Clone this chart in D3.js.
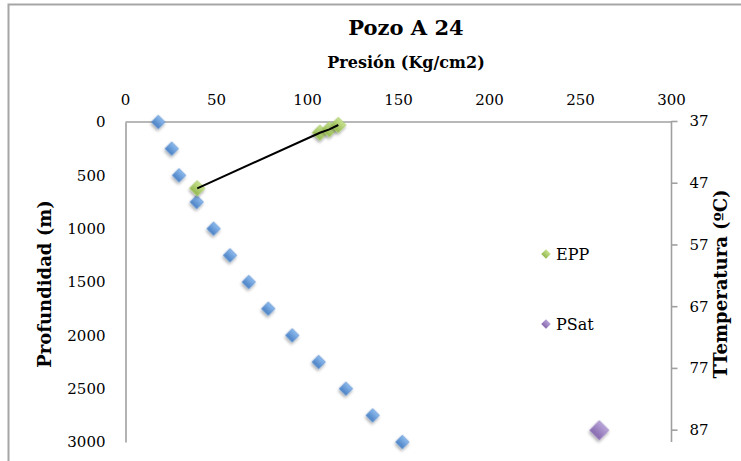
<!DOCTYPE html>
<html>
<head>
<meta charset="utf-8">
<script src="https://cdn.jsdelivr.net/npm/d3@7"></script>
<style>
  html, body { margin: 0; padding: 0; background: #fff; }
  svg { display: block; }
</style>
</head>
<body>
<script>
// ---- data ----
const profundidad = [0, 250, 500, 750, 1000, 1250, 1500, 1750, 2000, 2250, 2500, 2750, 3000];
const presion = [18.3, 25.7, 29.7, 39.4, 48.7, 57.7, 68.0, 78.7, 91.9, 106.4, 121.4, 136.1, 152.4];
const eppPresion = [39.7, 107.1, 112.3, 117.2];
const eppTemp = [47.9, 38.9, 38.35, 37.65];
const psatPresion = [260.6];
const psatTemp = [87.1];
const xTicks = [0, 50, 100, 150, 200, 250, 300];
const yTicks = [0, 500, 1000, 1500, 2000, 2500, 3000];
const tTicks = [37, 47, 57, 67, 77, 87];
const seriesNames = ["EPP", "PSat"];

const W = 741, H = 461;
const FONT = "'DejaVu Serif', 'Liberation Serif', serif";

const svg = d3.select("body").append("svg").attr("width", W).attr("height", H);
const defs = svg.append("defs");

function grad(id, c1, c2) {
  const g = defs.append("linearGradient").attr("id", id)
    .attr("x1", 0).attr("y1", 0).attr("x2", 0).attr("y2", 1);
  g.append("stop").attr("offset", "0%").attr("stop-color", c1);
  g.append("stop").attr("offset", "100%").attr("stop-color", c2);
}
grad("gBlue", "#8DBBEE", "#4A80C4");
grad("gGreen", "#C8E28F", "#94B851");
grad("gPurple", "#B9A5D8", "#8668AE");

const f = defs.append("filter").attr("id", "shadow")
  .attr("x", "-50%").attr("y", "-50%").attr("width", "200%").attr("height", "200%");
f.append("feDropShadow").attr("dx", 1).attr("dy", 2).attr("stdDeviation", 1.6)
  .attr("flood-color", "#000").attr("flood-opacity", 0.35);

// outer border
svg.append("rect").attr("x", 8.5).attr("y", 4.5).attr("width", 800).attr("height", 600)
  .attr("fill", "none").attr("stroke", "#A6A6A6").attr("stroke-width", 2);

// scales
const x = d3.scaleLinear().domain([0, 300]).range([125, 671]);
const y = d3.scaleLinear().domain([0, 3000]).range([122, 442]);
const t = d3.scaleLinear().domain([37, 89]).range([121, 442]);

// axes
const axTop = svg.append("g").attr("transform", "translate(0,121.5)")
  .call(d3.axisTop(x).tickValues(xTicks).tickFormat(d3.format("d")).tickSize(0).tickPadding(17));
const axLeft = svg.append("g").attr("transform", "translate(125.5,0)")
  .call(d3.axisLeft(y).tickValues(yTicks).tickFormat(d3.format("d")).tickSize(0).tickPadding(20));
const axRight = svg.append("g").attr("transform", "translate(671.5,0)")
  .call(d3.axisRight(t).tickValues(tTicks).tickFormat(d3.format("d")).tickSizeInner(6).tickSizeOuter(0).tickPadding(12));

[axTop, axLeft, axRight].forEach(a => {
  a.select(".domain").attr("stroke", "#A0A0A0").attr("stroke-width", 1.6);
  a.selectAll(".tick line").attr("stroke", "#A0A0A0").attr("stroke-width", 1.6);
  a.selectAll(".tick text").attr("fill", "#000").style("font-family", FONT).style("font-size", "15px");
});
axRight.select(".domain").attr("d", `M0,${t(37)}V${442}`);

// titles
svg.append("text").attr("x", 406).attr("y", 35).attr("text-anchor", "middle")
  .style("font-family", FONT).style("font-weight", "bold").style("font-size", "21px")
  .text("Pozo A 24");
svg.append("text").attr("x", 406).attr("y", 68).attr("text-anchor", "middle")
  .style("font-family", FONT).style("font-weight", "bold").style("font-size", "16px")
  .text("Presión (Kg/cm2)");
svg.append("text").attr("transform", "translate(51,284) rotate(-90)").attr("text-anchor", "middle")
  .style("font-family", FONT).style("font-weight", "bold").style("font-size", "18px")
  .text("Profundidad (m)");
svg.append("text").attr("transform", "translate(727,284) rotate(-90)").attr("text-anchor", "middle")
  .style("font-family", FONT).style("font-weight", "bold").style("font-size", "18px")
  .text("TTemperatura (ºC)");

const diamond = s => d3.symbol(d3.symbolSquare, s)();

// blue series (pressure vs depth)
svg.append("g").selectAll("path").data(presion.map((p, i) => [p, profundidad[i]])).join("path")
  .attr("d", diamond(92))
  .attr("transform", d => `translate(${x(d[0])},${y(d[1])}) rotate(45)`)
  .attr("fill", "url(#gBlue)").attr("stroke", "#5C8FD0").attr("stroke-width", 0.6)
  .attr("filter", "url(#shadow)");

// EPP markers + line
const epp = eppPresion.map((p, i) => [p, eppTemp[i]]);
svg.append("g").selectAll("path").data(epp).join("path")
  .attr("d", diamond(118))
  .attr("transform", d => `translate(${x(d[0])},${t(d[1])}) rotate(45)`)
  .attr("fill", "url(#gGreen)").attr("stroke", "#A9CB6A").attr("stroke-width", 0.6)
  .attr("filter", "url(#shadow)");
svg.append("path").datum(epp)
  .attr("d", d3.line().x(d => x(d[0])).y(d => t(d[1])))
  .attr("fill", "none").attr("stroke", "#000").attr("stroke-width", 2);

// PSat
svg.append("g").selectAll("path").data(psatPresion.map((p, i) => [p, psatTemp[i]])).join("path")
  .attr("d", diamond(190))
  .attr("transform", d => `translate(${x(d[0])},${t(d[1])}) rotate(45)`)
  .attr("fill", "url(#gPurple)").attr("stroke", "#9E89C2").attr("stroke-width", 0.6)
  .attr("filter", "url(#shadow)");

// legend
const legY = [254, 324];
const legFill = ["url(#gGreen)", "url(#gPurple)"];
const leg = svg.append("g").selectAll("g").data(seriesNames).join("g")
  .attr("transform", (d, i) => `translate(546,${legY[i]})`);
leg.append("path").attr("d", diamond(50)).attr("transform", "rotate(45)")
  .attr("fill", (d, i) => legFill[i]).attr("stroke", "#fff").attr("stroke-width", 0.4);
leg.append("text").attr("x", 10).attr("y", 6).text(d => d)
  .style("font-family", FONT).style("font-size", "16px");
</script>
</body>
</html>
